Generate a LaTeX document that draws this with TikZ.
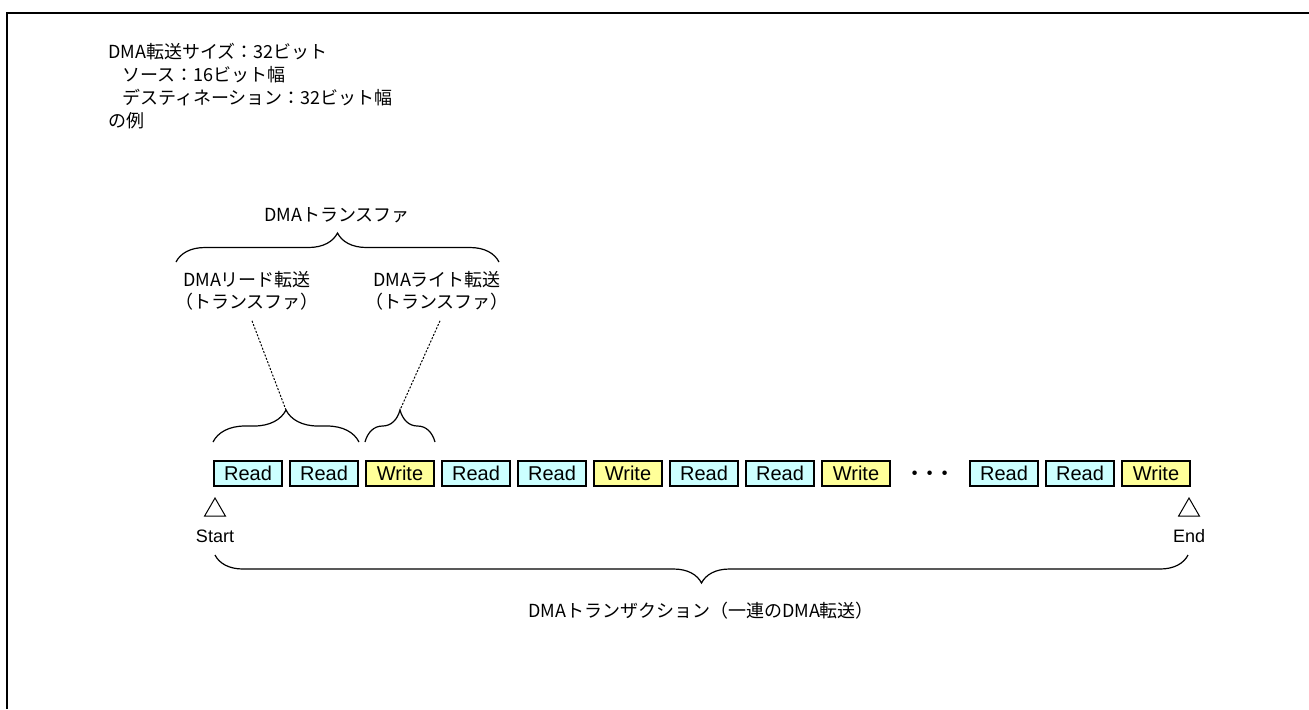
\documentclass[tikz,border=0pt]{standalone}
\usepackage{fontspec}
\setmainfont{Liberation Sans}
\newfontfamily\jpfont{Noto Sans CJK JP}
\definecolor{rdcyan}{HTML}{CCFFFF}
\definecolor{wryellow}{HTML}{FFFF99}
\usetikzlibrary{positioning, calc, shapes.geometric, decorations.pathreplacing}

\begin{document}
\begin{tikzpicture}[x=0.5pt, y=-0.5pt,
    node distance=3pt and 3pt,
    rd/.style={rectangle, draw=black, line width=1.2pt, fill=rdcyan,
               minimum width=33.8pt, minimum height=12.3pt, inner sep=0pt,
               text height=7.3pt, text depth=0pt,
               font=\fontsize{10}{12}\selectfont},
    wr/.style={rd, fill=wryellow},
    jp/.style={font=\jpfont\fontsize{9}{11}\selectfont, align=center,
               inner sep=0pt},
    lbl/.style={font=\fontsize{9}{11}\selectfont, inner sep=0pt},
    tri/.style={regular polygon, regular polygon sides=3, draw,
                line width=0.5pt, minimum size=12pt, inner sep=0pt},
    brc/.style={decorate, decoration={brace, amplitude=#1},
                line width=0.6pt},
    dotline/.style={dash pattern=on 1pt off 0.8pt, line width=0.5pt}
  ]
  \useasboundingbox (0,0) rectangle (1309,709);
  \draw[line width=1pt] (7,709) -- (7,13) -- (1309,13);

  % header text
  \node[jp, anchor=base west] (hdr1) at (108,58)  {DMA転送サイズ：32ビット};
  \node[jp, anchor=base west] (hdr2) at (122,81)  {ソース：16ビット幅};
  \node[jp, anchor=base west] (hdr3) at (122,104) {デスティネーション：32ビット幅};
  \node[jp, anchor=base west] (hdr4) at (108,127) {の例};

  % transfer sequence
  \node[rd] (r1) at (248,473.5) {Read};
  \node[rd, right=of r1] (r2) {Read};
  \node[wr, right=of r2] (w1) {Write};
  \node[rd, right=of w1] (r3) {Read};
  \node[rd, right=of r3] (r4) {Read};
  \node[wr, right=of r4] (w2) {Write};
  \node[rd, right=of w2] (r5) {Read};
  \node[rd, right=of r5] (r6) {Read};
  \node[wr, right=of r6] (w3) {Write};
  \node[rd, right=39pt of w3] (r7) {Read};
  \node[rd, right=of r7] (r8) {Read};
  \node[wr, right=of r8] (w4) {Write};
  \node[font=\fontsize{14}{14}\selectfont\boldmath, inner sep=0pt] (dots)
       at ($(w3.east)!0.5!(r7.west)$) {$\cdots$};

  % start / end
  \node[tri] (tstart) at (215,510) {};
  \node[tri] (tend)   at (1189,510) {};
  \node[lbl] (start) at (215,536) {Start};
  \node[lbl] (end)   at (1189,536) {End};

  % braces
  \draw[brc=14.5pt] (176,262) -- (499,262);
  \node[jp] (xfer) at (337,215) {DMAトランスファ};
  \draw[brc=16pt] ([yshift=9pt]r1.north west) -- ([yshift=9pt]r2.north east);
  \draw[brc=16pt] ([yshift=9pt]w1.north west) -- ([yshift=9pt]w1.north east);
  \coordinate (rdtip) at ($(r1.north west)!0.5!(r2.north east)+(0,-50)$);
  \coordinate (wrtip) at ($(w1.north west)!0.5!(w1.north east)+(0,-50)$);
  \draw[brc=14pt] (1188,555) -- (215,555);
  \node[jp] (trans) at (701,611) {DMAトランザクション（一連のDMA転送）};

  \node[jp] (rdlbl) at (247,291) {DMAリード転送\\（トランスファ）};
  \node[jp] (wrlbl) at (437,291) {DMAライト転送\\（トランスファ）};
  \draw[dotline] ([shift={(5,10)}]rdlbl.south) -- (rdtip);
  \draw[dotline] ([shift={(3,10)}]wrlbl.south) -- (wrtip);
\end{tikzpicture}
\end{document}
